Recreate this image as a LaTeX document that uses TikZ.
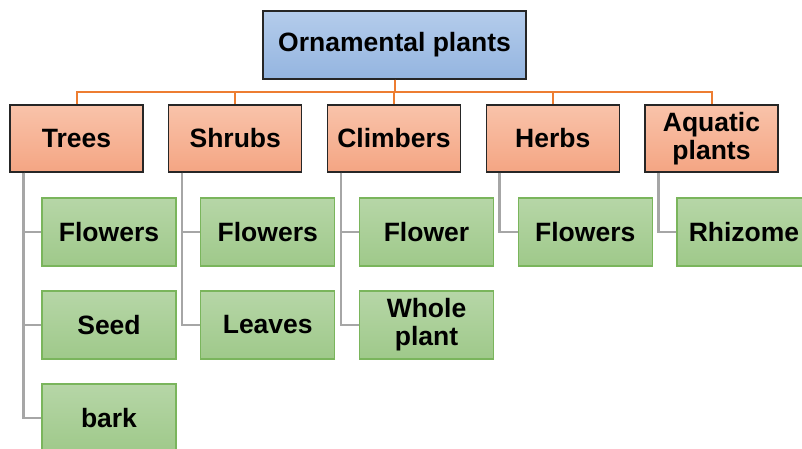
\documentclass[tikz,border=0pt]{standalone}
\usepackage{fontspec}
\setmainfont{Liberation Sans}
\usetikzlibrary{calc}
\definecolor{topA}{HTML}{B4CCEB}
\definecolor{topB}{HTML}{94B5E0}
\definecolor{catA}{HTML}{F9C3AA}
\definecolor{catB}{HTML}{F4A583}
\definecolor{leafA}{HTML}{B6D6A7}
\definecolor{leafB}{HTML}{9FC98A}
\definecolor{leafline}{HTML}{7AB55C}
\definecolor{orangeline}{HTML}{ED7D31}
\definecolor{grayline}{HTML}{A6A6A6}
\tikzset{
  txt/.style={font=\bfseries\fontsize{26.5}{28}\selectfont, align=center, inner sep=0pt},
  topbox/.style={txt, draw=black!85, line width=1.2pt, top color=topA, bottom color=topB, minimum width=263pt, minimum height=68pt},
  catbox/.style={txt, draw=black!85, line width=1.2pt, top color=catA, bottom color=catB, minimum width=133pt, minimum height=67pt},
  leafbox/.style={txt, draw=leafline, line width=1.2pt, top color=leafA, bottom color=leafB, minimum width=134pt, minimum height=68pt},
  oline/.style={draw=orangeline, line width=2pt},
  gline/.style={draw=grayline, line width=2.5pt}
}
\begin{document}
\begin{tikzpicture}[x=1pt,y=-1pt]
\useasboundingbox (0,0) rectangle (802,449);
\clip (0,0) rectangle (802,449);
\coordinate (bar) at (0,92);
\node[topbox] (top) at (394.5,45) {Ornamental plants};
\node[catbox] (c1) at (76.5,138.5) {Trees};
\node[catbox] (c2) at (235.25,138.5) {Shrubs};
\node[catbox] (c3) at (394,138.5) {Climbers};
\node[catbox] (c4) at (552.75,138.5) {Herbs};
\node[catbox] (c5) at (711.5,138.5) {Aquatic\\plants};
\foreach \c in {c1,c2,c3,c4,c5}{
  \draw[oline] (top.south) -- (top.south |- bar) -| (\c.north);
}
\foreach \p/\cx/\nm/\ny/\lbl in {c1/109/t1/232/Flowers,c1/109/t2/325/Seed,c1/109/t3/418/bark,
  c2/267.75/s1/232/Flowers,c2/267.75/s2/325/Leaves,
  c3/426.5/k1/232/Flower,c3/426.5/k2/325/{Whole\\plant},
  c4/585.25/h1/232/Flowers,c5/744/a1/232/Rhizome}{
  \draw[gline] ($(\p.south west)+(14,0)$) |- (\cx-67,\ny);
  \node[leafbox] (\nm) at (\cx,\ny) {\lbl};
}
\end{tikzpicture}
\end{document}
